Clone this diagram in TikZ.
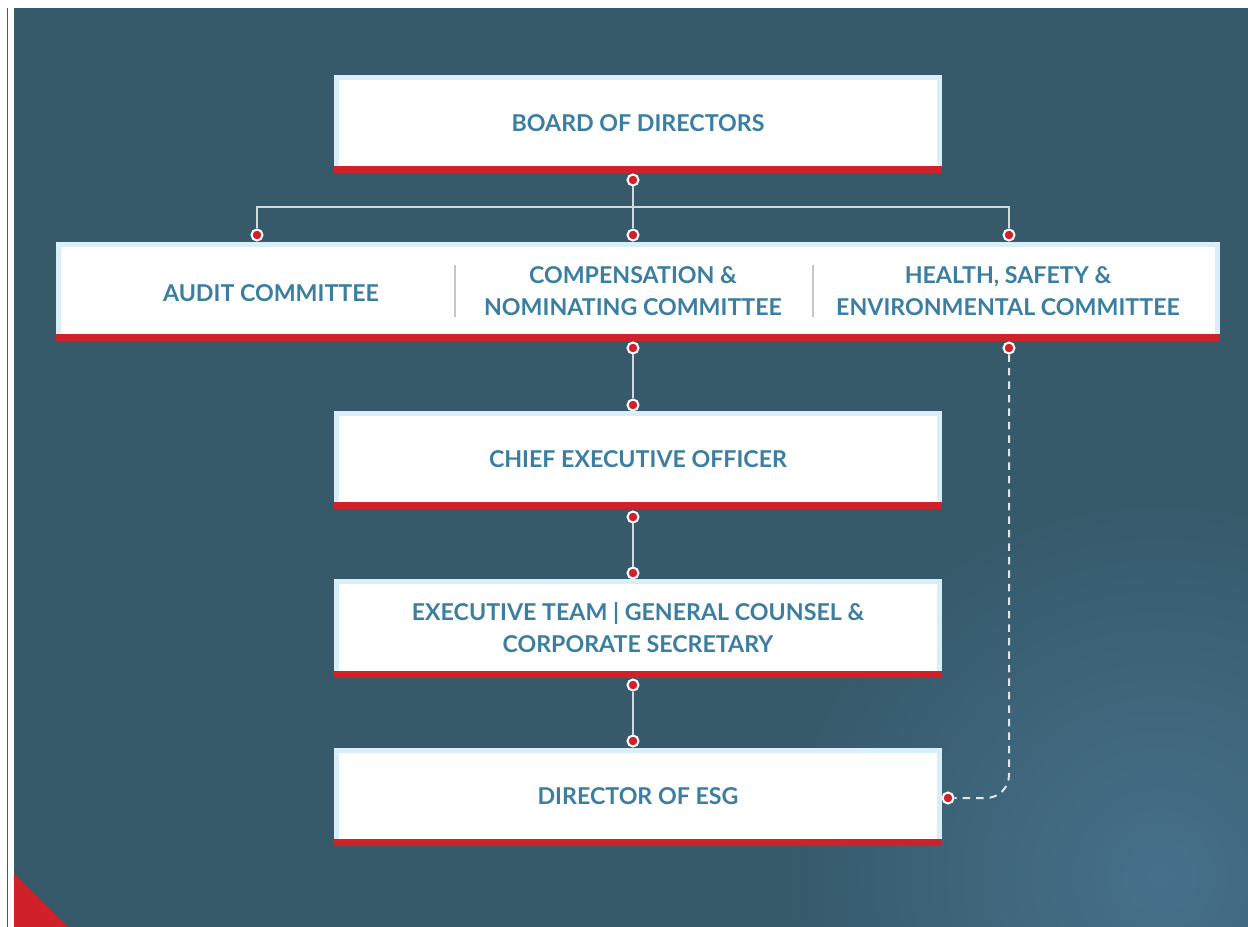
\documentclass[tikz,border=0pt]{standalone}
\usepackage{fontspec}
\setmainfont{Lato}
\usetikzlibrary{positioning}
\definecolor{bgteal}{HTML}{375A6B}
\definecolor{bglight}{HTML}{46708A}
\definecolor{txtblue}{HTML}{3B7EA1}
\definecolor{rimblue}{HTML}{D8EEF9}
\definecolor{barred}{HTML}{D0202A}
\definecolor{linkgray}{HTML}{D3DADF}
\tikzset{
    orgbox/.style = {rectangle, draw=rimblue, line width=1mm, fill=white, outer sep=0pt, minimum width=12.06cm, minimum height=1.84cm, align=center, text=txtblue, font=\bfseries\fontsize{13.2}{18.1}\selectfont},
    widebox/.style = {orgbox, minimum width=23.18cm, minimum height=1.86cm},
    boxtext/.style = {align=center, text=txtblue, font=\bfseries\fontsize{13.2}{18.1}\selectfont},
    joint/.style = {circle, fill=barred, draw=white, line width=0.04cm, minimum size=0.22cm, inner sep=0pt},
    link/.style = {linkgray, line width=0.03cm},
    linkd/.style = {white!85!bgteal, line width=0.04cm, dash pattern=on 0.15cm off 0.12cm, rounded corners=0.46cm}, % reporting line
    divider/.style = {gray!45, line width=0.03cm}
}

\begin{document}
\begin{tikzpicture}
\useasboundingbox (0,0) rectangle (24.96,18.52);
%
% backdrop
\draw[barred, line width=0.03cm] (0.15,-0.1) -- (0.15,18.36);
\begin{scope}
\clip (0.28,-0.1) rectangle (25.1,18.36);
\fill[bgteal] (0.28,-0.1) rectangle (25.1,18.36);
\shade[inner color=bglight, outer color=bgteal] (23.2,1.0) circle (7.5);
\fill[barred] (0.28,-0.1) -- (0.28,1.04) -- (1.44,-0.1) -- cycle;
\end{scope}
%
% boxes
\node[orgbox] at (12.76,16.05) (board) {BOARD OF DIRECTORS};
\node[widebox] at (12.76,12.70) (cmte) {};
\node[orgbox] at (12.76,9.33) (ceo) {CHIEF EXECUTIVE OFFICER};
\node[orgbox] at (12.76,5.96) (exec) {EXECUTIVE TEAM \textbar{} GENERAL COUNSEL \&\\CORPORATE SECRETARY};
\node[orgbox] at (12.76,2.59) (esg) {DIRECTOR OF ESG};
\foreach \n in {board,cmte,ceo,exec,esg}
    \fill[barred] ([shift={(-0.05,-0.07)}]\n.south west) rectangle ([shift={(0.05,0.07)}]\n.south east);
%
% committees
\node[boxtext] at (5.42,12.66) (audit) {AUDIT COMMITTEE};
\node[boxtext] at (12.66,12.70) (comp) {COMPENSATION \&\\NOMINATING COMMITTEE};
\node[boxtext] at (20.16,12.70) (hse) {HEALTH, SAFETY \&\\ENVIRONMENTAL COMMITTEE};
\draw[divider] (9.10,13.22) -- (9.10,12.18);
\draw[divider] (16.26,13.22) -- (16.26,12.18);
%
% joints
\node[joint] at (12.66,14.92) (b1) {};
\node[joint] at (5.14,13.82) (c1) {};
\node[joint] at (12.66,13.82) (c2) {};
\node[joint] at (20.18,13.82) (c3) {};
\node[joint] at (12.66,11.56) (d1) {};
\node[joint] at (20.18,11.56) (d2) {};
\node[joint] at (12.66,10.42) (e1) {};
\node[joint] at (12.66,8.18) (f1) {};
\node[joint] at (12.66,7.06) (f2) {};
\node[joint] at (12.66,4.82) (g1) {};
\node[joint] at (12.66,3.70) (g2) {};
\node[joint] at (18.96,2.56) (h1) {};
\coordinate (fork) at (12.66,14.38);
%
\draw[link] (b1) -- (c2);
\draw[link] (c1) |- (fork) -| (c3);
\draw[link] (d1) -- (e1);
\draw[link] (f1) -- (f2);
\draw[link] (g1) -- (g2);
\draw[linkd] (d2) |- (h1);

\end{tikzpicture}
\end{document}
